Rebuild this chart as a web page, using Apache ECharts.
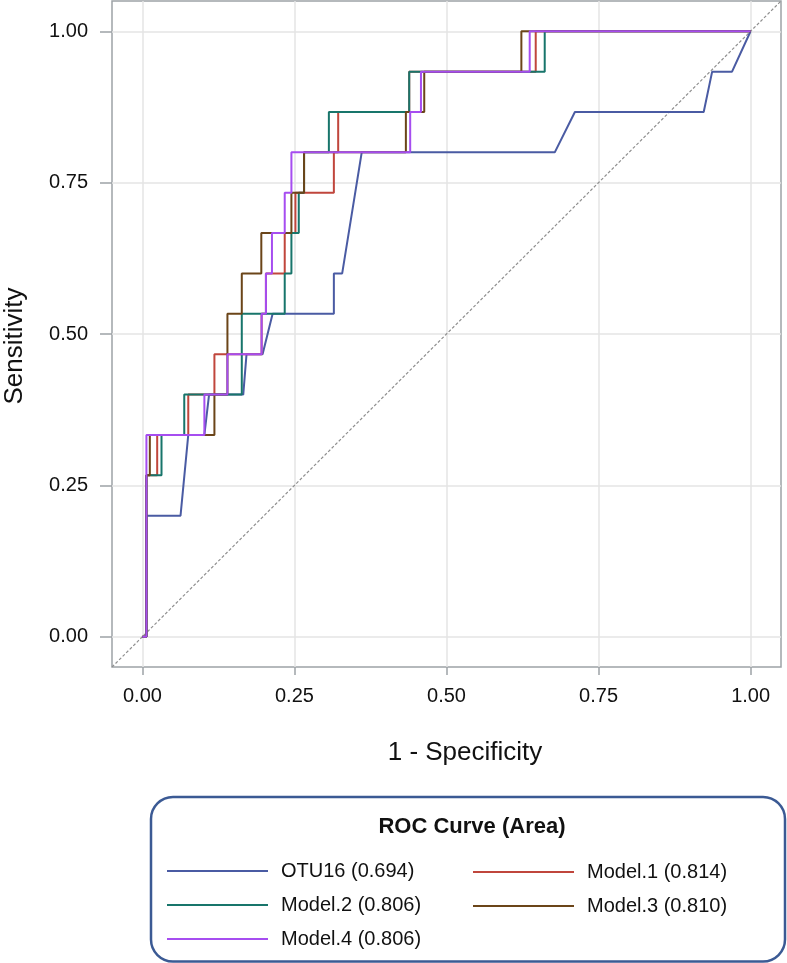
<!DOCTYPE html>
<html>
<head>
<meta charset="utf-8">
<script src="https://cdn.jsdelivr.net/npm/echarts@6/dist/echarts.min.js"></script>
<style>
html,body{margin:0;padding:0;background:#fff;}
#chart{width:787px;height:963px;}
</style>
</head>
<body>
<div id="chart"></div>
<script>
// ---- data ----
const axisTicks = [0, 0.25, 0.5, 0.75, 1];
const axisRange = [-0.05, 1.05];

const seriesNames = ['OTU16', 'Model.1', 'Model.2', 'Model.3', 'Model.4'];
const aucValues  = ['0.694', '0.814', '0.806', '0.810', '0.806'];
const seriesColors = ['#4a5ba3', '#c0463c', '#18756b', '#6b4519', '#a64df0'];

// OTU16: vertices [1 - specificity, sensitivity] (ties drawn as diagonals)
const otu16 = [
  [0, 0], [0.0066, 0], [0.0066, 0.2], [0.0627, 0.2], [0.0754, 0.3333],
  [0.1019, 0.3333], [0.1096, 0.4], [0.1658, 0.4], [0.1712, 0.4667],
  [0.1976, 0.4667], [0.2141, 0.5333], [0.3148, 0.5333], [0.3148, 0.6],
  [0.3285, 0.6], [0.3606, 0.8], [0.678, 0.8], [0.7111, 0.8667],
  [0.9229, 0.8667], [0.9368, 0.9333], [0.9695, 0.9333], [1, 1]
];
// Models: step points [1 - specificity at which sensitivity rises, new sensitivity]
const model1 = [
  [0, 0], [0.0066, 0.2667], [0.0243, 0.3333], [0.0754, 0.4], [0.1184, 0.4667],
  [0.196, 0.5333], [0.2031, 0.6], [0.234, 0.6667], [0.2516, 0.7333],
  [0.3148, 0.8], [0.3219, 0.8667], [0.4387, 0.9333], [0.6467, 1], [1, 1]
];
const model2 = [
  [0, 0], [0.0066, 0.2667], [0.0314, 0.3333], [0.0688, 0.4], [0.1634, 0.5333],
  [0.234, 0.6], [0.245, 0.6667], [0.2571, 0.7333], [0.2658, 0.8],
  [0.3066, 0.8667], [0.4387, 0.9333], [0.6615, 1], [1, 1]
];
const model3 = [
  [0, 0], [0.0066, 0.2667], [0.0122, 0.3333], [0.1184, 0.4], [0.1398, 0.5333],
  [0.1634, 0.6], [0.1955, 0.6667], [0.245, 0.7333], [0.2658, 0.8],
  [0.4332, 0.8667], [0.4634, 0.9333], [0.6231, 1], [1, 1]
];
const model4 = [
  [0, 0], [0.0066, 0.3333], [0.1019, 0.4], [0.1398, 0.4667], [0.196, 0.5333],
  [0.2031, 0.6], [0.213, 0.6667], [0.234, 0.7333], [0.245, 0.8],
  [0.4403, 0.8667], [0.458, 0.9333], [0.6368, 1], [1, 1]
];
const referenceLine = [[axisRange[0], axisRange[0]], [axisRange[1], axisRange[1]]];

// ---- chart ----
const chart = echarts.init(document.getElementById('chart'), null, {renderer: 'canvas'});
const FONT = '"Liberation Sans", Arial, Helvetica, sans-serif';
const aucOf = {};
seriesNames.forEach((n, i) => { aucOf[n] = aucValues[i]; });

function axisCommon(name) {
  return {
    type: 'value',
    min: axisRange[0],
    max: axisRange[1],
    name: name,
    nameLocation: 'middle',
    nameTextStyle: {fontFamily: FONT, fontSize: 26, color: '#111'},
    axisLine: {show: false, onZero: false},
    axisTick: {show: true, inside: false, customValues: axisTicks,
               lineStyle: {color: '#9da2a7', width: 1.5}},
    axisLabel: {customValues: axisTicks, fontFamily: FONT, fontSize: 20, color: '#111',
                formatter: v => v.toFixed(2)},
    splitLine: {show: true, lineStyle: {color: '#e4e4e4', width: 1.5}}
  };
}

const xAxis = axisCommon('1 - Specificity');
xAxis.nameGap = 73;
xAxis.nameTextStyle.padding = [0, 0, 0, 37];
xAxis.axisTick.length = 8;
xAxis.axisLabel.margin = 19;

const yAxis = axisCommon('Sensitivity');
yAxis.nameGap = 84;
yAxis.nameTextStyle.padding = [0, 24, 0, 0];
yAxis.axisTick.length = 12;
yAxis.axisLabel.margin = 24;

const curveData = [otu16, model1, model2, model3, model4];
const curveSeries = seriesNames.map((n, i) => ({
  name: n,
  type: 'line',
  data: curveData[i],
  step: i === 0 ? false : 'end',
  showSymbol: false,
  symbol: 'none',
  color: seriesColors[i],
  lineStyle: {color: seriesColors[i], width: 2},
  animation: false,
  z: 3 + i
}));

function legendFor(names, left, top) {
  return {
    data: names,
    orient: 'vertical',
    left: left,
    top: top,
    padding: 0,
    itemGap: 14,
    itemWidth: 101,
    itemHeight: 2,
    icon: 'rect',
    selectedMode: false,
    formatter: n => n + ' (' + aucOf[n] + ')',
    textStyle: {fontFamily: FONT, fontSize: 20, color: '#111', lineHeight: 20,
                padding: [0, 0, 0, 8]}
  };
}

chart.setOption({
  animation: false,
  backgroundColor: '#fff',
  grid: {left: 112, top: 1, right: 6, bottom: 296, show: true,
         borderColor: '#9da2a7', borderWidth: 1.5, containLabel: false,
         outerBoundsMode: 'none'},
  xAxis: xAxis,
  yAxis: yAxis,
  title: {
    text: 'ROC Curve (Area)',
    left: 472, top: 815, textAlign: 'center', padding: 0,
    textStyle: {fontFamily: FONT, fontSize: 22, fontWeight: 'bold', color: '#111', lineHeight: 24}
  },
  legend: [
    legendFor(['OTU16', 'Model.2', 'Model.4'], 167, 861),
    legendFor(['Model.1', 'Model.3'], 473, 862)
  ],
  graphic: [{
    type: 'rect',
    shape: {x: 151, y: 797, width: 634, height: 164.5, r: 22},
    style: {fill: 'none', stroke: '#3b5a94', lineWidth: 2.5},
    silent: true
  }],
  series: [{
    name: 'reference',
    type: 'line',
    data: referenceLine,
    showSymbol: false,
    symbol: 'none',
    silent: true,
    lineStyle: {color: '#8f8f8f', width: 1.2, type: [3, 2]},
    z: 2
  }].concat(curveSeries)
});
</script>
</body>
</html>
